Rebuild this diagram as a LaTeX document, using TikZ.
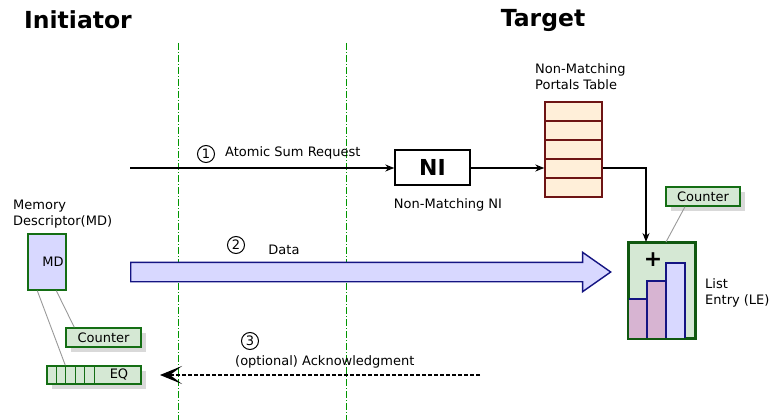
\documentclass[tikz,border=0pt]{standalone}
\usepackage{fontspec}
\setmainfont{DejaVu Sans}
\usetikzlibrary{arrows.meta,calc,shapes.arrows,shadows}
\definecolor{lgreen}{RGB}{213,232,212}
\definecolor{dgreen}{RGB}{20,110,20}
\definecolor{lblue}{RGB}{216,216,255}
\definecolor{navy}{RGB}{20,20,130}
\definecolor{lpink}{RGB}{215,180,210}
\definecolor{lorange}{RGB}{255,239,217}
\definecolor{dred}{RGB}{110,20,20}
\definecolor{lifegreen}{RGB}{0,150,0}

\begin{document}
\begin{tikzpicture}[x=1pt,y=-1pt,
    txt/.style={inner sep=0pt,font=\fontsize{13}{16}\selectfont,align=left},
    title/.style={inner sep=0pt,font=\bfseries\fontsize{23.5}{26}\selectfont},
    num/.style={circle,draw,line width=1pt,inner sep=0pt,minimum size=17pt,font=\fontsize{13}{14}\selectfont},
    lifeline/.style={draw=lifegreen,line width=1pt,dash pattern=on 7pt off 2pt on 1pt off 2pt},
    greenbox/.style={draw=dgreen,line width=1.4pt,fill=lgreen,inner sep=0pt},
    shadowed/.style={drop shadow={shadow xshift=5pt,shadow yshift=-5pt,fill=black!15,opacity=1}},
    link/.style={draw=black!40,line width=0.9pt}]
    \useasboundingbox (0,0) rectangle (769,420);

    % headings
    \node[title] (init) at (78,20) {Initiator};
    \node[title] (tgt) at (543,20) {Target};

    % life lines
    \coordinate (l1top) at (178,43);
    \coordinate (l1bot) at (178,420);
    \coordinate (l2top) at (346,43);
    \coordinate (l2bot) at (346,420);
    \path[lifeline] (l1top) -- (l1bot);
    \path[lifeline] (l2top) -- (l2bot);

    % initiator side
    \node[txt,anchor=west] (mdlbl) at (13,214) {Memory\\Descriptor(MD)};
    \node[greenbox,fill=lblue,minimum width=38pt,minimum height=56pt,font=\fontsize{13}{14}\selectfont] (md) at (47,262) {\hspace*{12pt}MD};
    \node[greenbox,shadowed,minimum width=75pt,minimum height=19pt,font=\fontsize{13}{14}\selectfont] (cnt1) at (103.5,337.5) {Counter};
    \node[greenbox,shadowed,minimum width=94pt,minimum height=18pt,font=\fontsize{13}{14}\selectfont] (eq) at (94,375) {\hspace*{50pt}EQ};
    \foreach \dx in {10,19,29,38,48}
      \draw[dgreen,line width=1.4pt] ($(eq.north west)+(\dx,0)$) -- ($(eq.south west)+(\dx,0)$);
    \draw[link] ($(md.south west)+(10,0)$) -- ($(eq.north west)+(19,0)$);
    \draw[link] ($(md.south west)+(29,0)$) -- ($(cnt1.north west)+(9,0)$);

    % target side
    \node[draw,line width=1.4pt,minimum width=75pt,minimum height=35pt,inner sep=0pt,font=\bfseries\fontsize{22}{24}\selectfont] (ni) at (432.5,167.5) {NI};
    \node[txt] (nilbl) at (448,205) {Non-Matching NI};
    \node[txt,anchor=west] (ptlbl) at (535,77) {Non-Matching\\Portals Table};
    \foreach \i in {1,...,5}
      \node[draw=dred,line width=1.4pt,fill=lorange,minimum width=57pt,minimum height=19pt,inner sep=0pt] (row\i) at (573.5,{102+19*(\i-0.5)}) {};

    \node[greenbox,draw=dgreen!80!black,minimum width=66pt,minimum height=95pt,line width=2pt] (le) at (662,290.5) {};
    \begin{scope}[draw=navy,line width=1.3pt]
      \filldraw[fill=lpink] ($(le.south west)+(0,0)$) rectangle ($(le.south west)+(19,-40)$);
      \filldraw[fill=lpink] ($(le.south west)+(19,0)$) rectangle ($(le.south west)+(38,-58)$);
      \filldraw[fill=lblue] ($(le.south west)+(38,0)$) rectangle ($(le.south west)+(57,-76)$);
    \end{scope}
    \draw[dgreen!80!black,line width=2pt] (le.north west) rectangle (le.south east);
    \node[inner sep=0pt,font=\bfseries\fontsize{22}{24}\selectfont] (plus) at (653,260) {+};
    \node[txt,anchor=west] (lelbl) at (705,293) {List\\Entry (LE)};
    \node[greenbox,shadowed,minimum width=74pt,minimum height=19pt,font=\fontsize{13}{14}\selectfont] (cnt2) at (703,196.5) {Counter};
    \draw[link] ($(cnt2.south)+(-18,0)$) -- ($(le.north)+(4,0)$);

    % messages
    \begin{scope}[>={Stealth[length=9pt,width=7pt]}]
      \coordinate (req) at (130,168);
      \draw[->,line width=1.3pt] (req) -- (req -| ni.west);
      \draw[->,line width=1.3pt] (ni.east |- req) -- (req -| row4.west);
      \draw[->,line width=1.3pt] (req -| row4.east) -| ($(le.north west)+(18,0)$);
    \end{scope}
    \node[num] (n1) at (206,154) {1};
    \node[txt,anchor=west] (reqlbl) at (225,153) {Atomic Sum Request};

    \node[single arrow,draw=navy,line width=1.4pt,fill=lblue,minimum width=38pt,inner xsep=0pt,inner ysep=9pt,
      single arrow head extend=10pt,single arrow tip angle=70,minimum height=480pt,anchor=tail] (data) at (130,272) {};
    \node[num] (n2) at (236,245) {2};
    \node[txt] (datalbl) at (284,250) {Data};

    \coordinate (ackfrom) at (480,375);
    \coordinate (ackto) at (160,375);
    \draw[line width=1.3pt,dash pattern=on 4pt off 2pt,-{Stealth[length=22pt,width=18pt,inset=12pt]}] (ackfrom) -- (ackto);
    \node[num] (n3) at (250,341) {3};
    \node[txt,anchor=west] (acklbl) at (235,362) {(optional) Acknowledgment};
\end{tikzpicture}
\end{document}
